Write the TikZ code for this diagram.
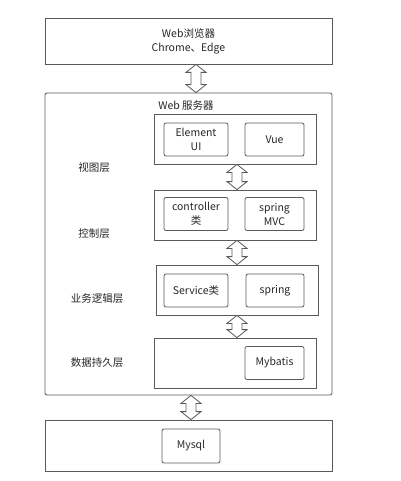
\documentclass[tikz,border=0pt]{standalone}
\usepackage{fontspec}
\setmainfont{Noto Sans CJK SC}
\usetikzlibrary{calc}
\definecolor{ln}{HTML}{5A5A5A}
\definecolor{tx}{HTML}{262626}
\tikzset{
  outerbox/.style={draw=ln, line width=0.8pt, minimum width=287pt, inner sep=0pt, text=tx},
  layerbox/.style={draw=ln, line width=0.8pt, minimum width=162pt, minimum height=50pt, inner sep=0pt},
  itembox/.style={draw=ln, line width=0.8pt, rounded corners=2pt, minimum height=33pt, inner sep=1pt, align=center, text=tx, font=\fontsize{10.5pt}{14pt}\selectfont},
  lbl/.style={text=tx, inner sep=0pt, font=\fontsize{10.5pt}{14pt}\selectfont},
  arrowline/.style={draw=ln, line width=0.8pt, fill=white, line join=miter}
}
\newcommand\dblarr[3]{%
  \path[arrowline] let \p1=(#2.south), \p2=(#3.north) in
    ({#1pt},{\y1}) -- ({#1pt+10pt},{\y1-8pt}) -- ({#1pt+5pt},{\y1-8pt}) --
    ({#1pt+5pt},{\y2+8pt}) -- ({#1pt+10pt},{\y2+8pt}) -- ({#1pt},{\y2}) --
    ({#1pt-10pt},{\y2+8pt}) -- ({#1pt-5pt},{\y2+8pt}) -- ({#1pt-5pt},{\y1-8pt}) --
    ({#1pt-10pt},{\y1-8pt}) -- cycle;}
\begin{document}
\begin{tikzpicture}[x=1pt,y=-1pt]
\useasboundingbox (0,0) rectangle (400,481);
% browser
\node[outerbox, minimum height=46pt, align=center, font=\fontsize{10.5pt}{14pt}\selectfont] (browser) at (188.5,41) {Web浏览器\\Chrome、Edge};
% server
\node[outerbox, minimum height=302pt, rounded corners=2pt] (server) at (188.5,244) {};
\node[lbl] (serverlbl) at (186,106) {Web 服务器};
% view layer
\node[layerbox] (view) at (235,139) {};
\node[itembox, minimum width=64pt] (element) at (196,139.5) {Element\\UI};
\node[itembox, minimum width=59pt] (vue) at (274.5,139.5) {Vue};
\node[lbl] (viewlbl) at (94,168) {视图层};
% control layer
\node[layerbox] (ctrl) at (235,215) {};
\node[itembox, minimum width=64pt] (controller) at (196,214) {controller\\类};
\node[itembox, minimum width=59pt] (springmvc) at (274.5,214) {spring\\MVC};
\node[lbl] (ctrllbl) at (94,234) {控制层};
% service layer
\node[layerbox] (svc) at (237,290) {};
\node[itembox, minimum width=64pt] (service) at (196,290.5) {Service类};
\node[itembox, minimum width=58pt] (spring) at (275,290.5) {spring};
\node[lbl] (svclbl) at (97,299) {业务逻辑层};
% data layer
\node[layerbox] (data) at (235,363) {};
\node[itembox, minimum width=59pt] (mybatis) at (274.5,363) {Mybatis};
\node[lbl] (datalbl) at (97,363) {数据持久层};
% database
\node[outerbox, minimum height=51pt] (db) at (188.5,445.5) {};
\node[itembox, minimum width=58pt, minimum height=34pt] (mysql) at (191,446) {Mysql};
% arrows
\dblarr{196}{browser}{server}
\dblarr{237}{view}{ctrl}
\dblarr{237}{ctrl}{svc}
\dblarr{237}{svc}{data}
\dblarr{191}{server}{db}
\end{tikzpicture}
\end{document}
